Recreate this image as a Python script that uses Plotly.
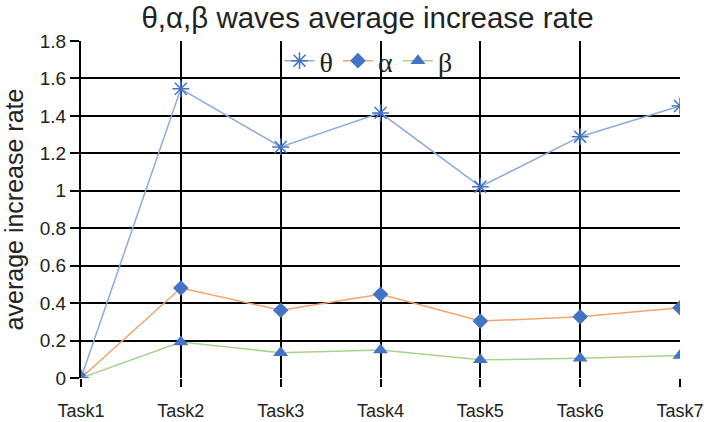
import plotly.graph_objects as go

tasks = ["Task1", "Task2", "Task3", "Task4", "Task5", "Task6", "Task7"]
theta = [0, 1.545, 1.234, 1.416, 1.022, 1.289, 1.453]
alpha = [0, 0.481, 0.362, 0.447, 0.304, 0.327, 0.375]
beta = [0, 0.192, 0.135, 0.150, 0.097, 0.105, 0.120]
yticks = [0, 0.2, 0.4, 0.6, 0.8, 1, 1.2, 1.4, 1.6, 1.8]
yticktext = ["0", "0.2", "0.4", "0.6", "0.8", "1", "1.2", "1.4", "1.6", "1.8"]

mk = "#4472C4"
fig = go.Figure()
fig.add_trace(go.Scatter(x=tasks, y=theta, name="θ", mode="lines+markers",
                         line=dict(color="#8EA9DB", width=1.5),
                         marker=dict(symbol="asterisk-open", size=14, color=mk, line=dict(color=mk, width=1.5))))
fig.add_trace(go.Scatter(x=tasks, y=alpha, name="α", mode="lines+markers",
                         line=dict(color="#F4A46E", width=1.5),
                         marker=dict(symbol="diamond", size=12, color=mk)))
fig.add_trace(go.Scatter(x=tasks, y=beta, name="β", mode="lines+markers",
                         line=dict(color="#A9D18E", width=1.5),
                         marker=dict(symbol="triangle-up", size=13, color=mk)))

fig.update_layout(
    width=704, height=422,
    margin=dict(l=81, r=24, t=41, b=44),
    paper_bgcolor="white", plot_bgcolor="white",
    font=dict(family="Liberation Sans, Arial, sans-serif", color="#222", size=18),
    title=dict(text="θ,α,β waves average increase rate", x=0.522, xanchor="center",
               y=0.958, yanchor="middle", font=dict(size=29.5, color="#222")),
    legend=dict(orientation="h", x=0.48, xanchor="center", y=1.015, yanchor="top",
                bgcolor="rgba(0,0,0,0)", font=dict(family="Liberation Serif, Times New Roman, serif", size=28, color="#222"),
                itemwidth=30, tracegroupgap=0, borderwidth=0),
    showlegend=True,
)
fig.update_xaxes(type="category", range=[0, 6], showgrid=True, gridcolor="black", gridwidth=2,
                 showline=False, zeroline=False, ticks="outside", ticklen=8, tickwidth=2, tickcolor="black",
                 tickfont=dict(size=18), ticklabelstandoff=8, automargin=False)
fig.update_yaxes(range=[0, 1.8], tickvals=yticks, ticktext=yticktext,
                 showgrid=True, gridcolor="black", gridwidth=2, zeroline=False,
                 showline=True, linecolor="black", linewidth=2,
                 ticks="outside", ticklen=9, tickwidth=2, tickcolor="black",
                 title=dict(text="average increase rate", font=dict(size=25)),
                 tickfont=dict(size=19), automargin=False)

fig.write_html("out.html")
